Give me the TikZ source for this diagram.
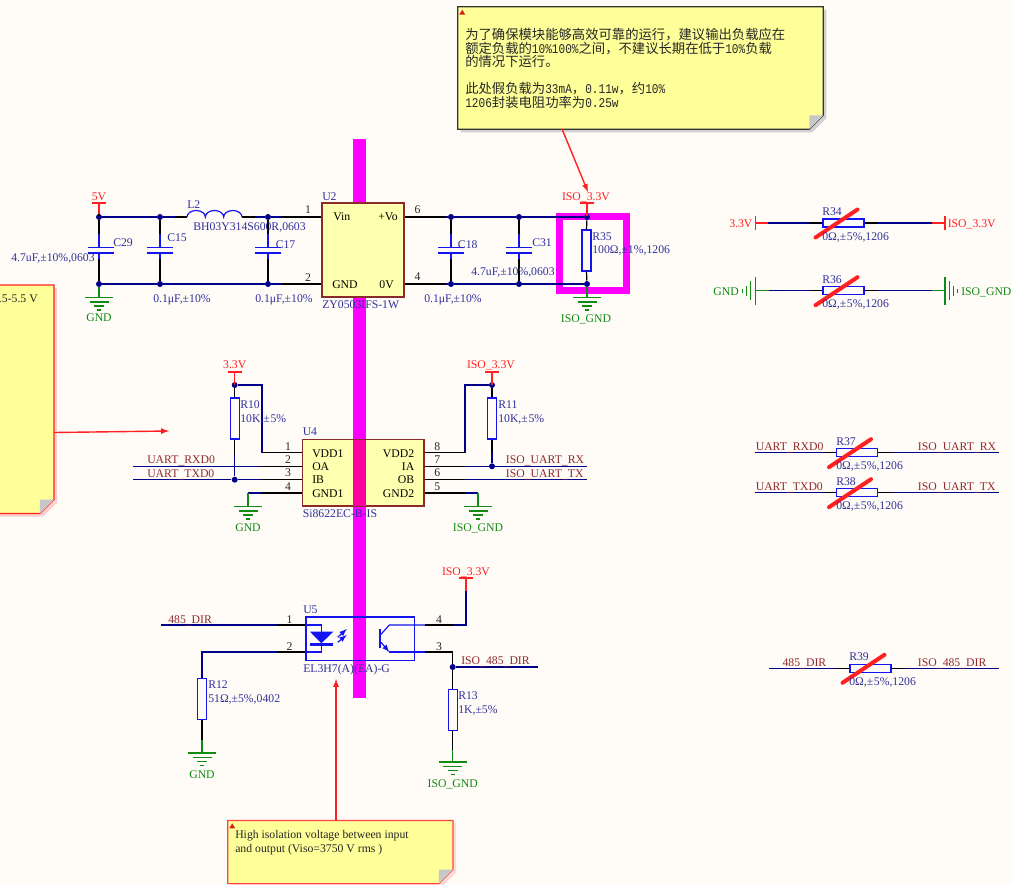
\documentclass[tikz,border=0pt]{standalone}
\usepackage{fontspec}
\setmainfont{Liberation Serif}
\newfontfamily\cjk{Noto Sans CJK SC}
\newfontfamily\halfw[FakeStretch=0.833]{Liberation Mono}
\newcommand{\hw}[1]{{\halfw\fontsize{10}{10}\selectfont #1}}
\newcommand{\lowbar}{\raisebox{-1.2pt}{\_}}
\usetikzlibrary{calc}
\definecolor{paper}{HTML}{FFFCF8}
\definecolor{notey}{HTML}{FFFF99}
\definecolor{chipy}{HTML}{FFFFB0}
\definecolor{chipb}{HTML}{8B2A2A}
\definecolor{navy}{HTML}{00008B}
\definecolor{labnavy}{HTML}{30309A}
\definecolor{partb}{HTML}{1414F0}
\definecolor{netred}{HTML}{8F2A2A}
\definecolor{pwr}{HTML}{FF2020}
\definecolor{earth}{HTML}{108A10}
\definecolor{barm}{HTML}{FF00FF}
\definecolor{barp}{HTML}{FF00A0}
\tikzset{
  wire/.style={navy,line width=1pt},
  pin/.style={black,line width=0.9pt},
  part/.style={partb,line width=0.9pt},
  dot/.style={circle,fill=navy,inner sep=0pt,minimum size=4.5pt},
  chip/.style={draw=chipb,fill=chipy,line width=0.9pt,inner sep=0pt},
  resv/.style={draw=partb,line width=0.9pt,inner sep=0pt,minimum width=6.75pt,minimum height=30.75pt},
  resh/.style={draw=partb,line width=0.9pt,inner sep=0pt,minimum width=30.75pt,minimum height=6pt},
  capv/.style={inner sep=0pt,minimum width=18.5pt,minimum height=3.75pt},
  lab/.style={inner sep=0pt,anchor=base west,font=\fontsize{8.8}{10}\selectfont},
  des/.style={lab,text=labnavy},
  net/.style={lab,text=netred},
  vcc/.style={lab,text=pwr},
  gndt/.style={lab,text=earth},
  pno/.style={lab,anchor=base,text=black!85},
  cross/.style={pwr,line width=3pt,line cap=round},
  notebox/.style={inner sep=0pt},
  notearrow/.style={-latex,pwr,line width=1.05pt},
  gnd/.pic={
    \coordinate (-top) at (0,0);
    \draw[earth,line width=0.9pt] (-14,0) -- (14,0) (-9.5,4.5) -- (9.5,4.5) (-5,8.5) -- (5,8.5) (-2,12.5) -- (2,12.5);
  },
  rail/.pic={
    \coordinate (-stem) at (0,13);
    \draw[pwr,line width=0.9pt] (-7,0) -- (7,0) (0,0) -- (0,13);
  },
}
\begin{document}
\begin{tikzpicture}[x=0.75pt,y=-0.75pt]
\useasboundingbox (0,0) rectangle (1012,884);
\fill[paper] (0,0) rectangle (1012,884);
% isolation bar and the marked resistor
\fill[barm] (353,139) rectangle (366,698);
\draw[barm,line width=5.25pt] (559.5,216.5) rectangle (626.5,290.5);

% notes
\node[notebox,minimum width=273.75pt,minimum height=91.5pt] (noteA) at (640.5,68) {};
\node[notebox,minimum width=47.8pt,minimum height=171pt] (noteB) at (21.85,399.3) {};
\node[notebox,minimum width=168.5pt,minimum height=47pt] (noteC) at (340.3,852) {};
\foreach \n/\e/\s in {noteA/black!80/black!18,noteB/pwr/pwr!22,noteC/pwr!85/pwr!18} {
  \fill[\s] ($(\n.north west)+(3,3)$) -- ($(\n.north east)+(3,3)$) -- ($(\n.south east)+(3,-11)$) -- ($(\n.south east)+(-11,3)$) -- ($(\n.south west)+(3,3)$) -- cycle;
  \filldraw[draw=\e,fill=notey,line width=0.9pt] (\n.north west) -- (\n.north east) -- ($(\n.south east)+(0,-14)$) -- ($(\n.south east)+(-14,0)$) -- (\n.south west) -- cycle;
  \fill[black!22] ($(\n.south east)+(0,-14)$) -- ($(\n.south east)+(-14,-14)$) -- ($(\n.south east)+(-14,0)$) -- cycle;
  \fill[pwr!85!black] ($(\n.north west)+(1.5,8)$) -- ($(\n.north west)+(7.5,8)$) -- ($(\n.north west)+(4.5,3)$) -- cycle;
}
\node[inner sep=0pt,anchor=north west,align=left,text=black!85,font=\cjk\fontsize{10}{10.2}\selectfont] (noteAtext) at (465,28) {为了确保模块能够高效可靠的运行，建议输出负载应在\\额定负载的\hw{10\%100\%}之间，不建议长期在低于\hw{10\%}负载\\的情况下运行。\\[10.2pt]此处假负载为\hw{33mA}，\hw{0.11w}，约\hw{10\%}\\\hw{1206}封装电阻功率为\hw{0.25w}};
\node[lab,anchor=base east,text=black!85] (noteBtext) at (38,302.7) {.5-5.5 V};
\node[lab,text=black!85] (noteCline) at (235,838.3) {High isolation voltage between input};
\node[lab,text=black!85] (noteCrms) at (235,852) {and output (Viso=3750 V rms )};
\coordinate (tipA) at (588,192);
\coordinate (tipB) at (169,431);
\coordinate (tipC) at (336,679);
\draw[notearrow] (562,129) -- (tipA);
\draw[notearrow] (noteB.east |- 0,432.5) -- (tipB);
\draw[notearrow] (tipC |- noteC.north) -- (tipC);

% power module
\node[chip,minimum width=61.5pt,minimum height=70.5pt] (U2) at (363,250) {};
\node[dot] (j5a) at (99,217) {};
\node[dot] (j5b) at (160,217) {};
\node[dot] (j5c) at (268,217) {};
\node[dot] (g5a) at (99,284) {};
\node[dot] (g5b) at (160,284) {};
\node[dot] (g5c) at (268,284) {};
\node[dot] (jIa) at (451,217) {};
\node[dot] (jIb) at (519,217) {};
\node[dot] (jIc) at (587,217) {};
\node[dot] (gIa) at (451,284) {};
\node[dot] (gIb) at (519,284) {};
\node[dot] (gIc) at (587,284) {};
\node[capv] (C29) at (101,250.2) {};
\node[capv] (C15) at (160,250.2) {};
\node[capv] (C17) at (268,250.2) {};
\node[capv] (C18) at (451,250.2) {};
\node[capv] (C31) at (519,250.2) {};
\node[resv] (R35) at (586.5,250.5) {};
\foreach \c/\a/\b in {C29/j5a/g5a,C15/j5b/g5b,C17/j5c/g5c,C18/jIa/gIa,C31/jIb/gIb} {
  \draw[pin] (\a) -- (\a |- \c.north);
  \draw[pin] (\b) -- (\b |- \c.south);
  \draw[part] (\a |- \c.north) -- ++(0,-13);
  \draw[part] (\b |- \c.south) -- ++(0,6);
  \draw[part,line width=1.2pt] (\c.north west) -- (\c.north east) (\c.south west) -- (\c.south east);
}
\coordinate (L2a) at (187,217);
\coordinate (L2b) at (242,217);
\draw[wire] (j5a) -- (j5b) -- (175,217);
\draw[pin] (175,217) -- (L2a);
\draw[part] (L2a) \foreach \k in {1,2,3} {arc[start angle=180,end angle=360,x radius=9.17,y radius=6.5]};
\draw[pin] (L2b) -- (255,217);
\draw[wire] (255,217) -- (j5c) -- (281,217);
\draw[pin] (281,217) -- (U2.west |- j5c);
\draw[wire] (g5a) -- (g5b) -- (g5c) -- (281,284);
\draw[pin] (281,284) -- (U2.west |- g5c);
\draw[pin] (U2.east |- jIa) -- (445,217);
\draw[wire] (445,217) -- (jIa) -- (jIb) -- (jIc);
\draw[pin] (U2.east |- gIa) -- (445,284);
\draw[wire] (445,284) -- (gIa) -- (gIb) -- (gIc);
\draw[pin] (jIc) -- (R35.north);
\draw[pin] (gIc) -- (R35.south);
\pic (p5) at (99,203) {rail};
\draw[pin] (p5-stem) -- (j5a);
\pic (pIA) at (587,203) {rail};
\pic (gA) at (99,297.5) {gnd};
\draw[earth,line width=0.9pt] (g5a) -- (gA-top);
\pic (gB) at (587,297.5) {gnd};
\draw[earth,line width=0.9pt] (gIc) -- (gB-top);
\node[vcc,anchor=base] (t5V) at (99,200) {5V};
\node[gndt,anchor=base] (tGA) at (99,321.7) {GND};
\node[des] (tC29) at (113,246) {C29};
\node[des] (vC29) at (11,261) {4.7uF,±10\%,0603};
\node[des] (tC15) at (167,241) {C15};
\node[des] (vC15) at (153,302) {0.1μF,±10\%};
\node[des] (tL2) at (187,208.3) {L2};
\node[des] (vL2) at (193,230) {BH03Y314S600R,0603};
\node[des] (tC17) at (275.5,248) {C17};
\node[des] (vC17) at (255,302) {0.1μF,±10\%};
\node[des] (tU2) at (322,200) {U2};
\node[des] (vU2) at (322,308) {ZY0503IFS-1W};
\node[pno] (n21) at (308,214) {1};
\node[pno] (n22) at (308,281) {2};
\node[pno] (n26) at (417.5,213.7) {6};
\node[pno] (n24) at (417.5,280.7) {4};
\node[lab] (sVin) at (333,220.7) {Vin};
\node[lab,anchor=base east] (sVo) at (398,220.7) {+Vo};
\node[lab] (sGND) at (332,288.3) {GND};
\node[lab,anchor=base east] (s0V) at (394,288.3) {0V};
\node[des] (tC18) at (457.7,248) {C18};
\node[des] (vC18) at (424,302) {0.1μF,±10\%};
\node[des] (tC31) at (532,246) {C31};
\node[des] (vC31) at (471,275) {4.7uF,±10\%,0603};
\node[des] (tR35) at (592,240) {R35};
\node[des] (vR35) at (592,253) {100Ω,±1\%,1206};
\node[vcc,anchor=base] (tIA) at (586,200) {ISO\_3.3V};
\node[gndt,anchor=base] (tGB) at (586,322) {ISO\_GND};

% uart isolator
\node[chip,minimum width=91.3pt,minimum height=50pt] (U4) at (363.2,472.7) {};
\fill[barp] (353,440) rectangle (366,505.5);
\node[dot] (jV) at (234.7,385) {};
\node[dot] (jW) at (492,385) {};
\node[dot] (jTX) at (234.7,479.7) {};
\node[dot] (jRX) at (492,466.3) {};
\node[resv] (R10) at (234.7,418.5) {};
\node[resv] (R11) at (492,418.5) {};
\coordinate (lRX) at (133,466.3);
\coordinate (lTX) at (133,479.7);
\coordinate (bA) at (262,452.7);
\coordinate (bB) at (262,466.3);
\coordinate (bC) at (262,479.7);
\coordinate (bD) at (262,493);
\coordinate (cA) at (465,452.7);
\coordinate (cB) at (465,466.3);
\coordinate (cC) at (465,479.7);
\coordinate (cD) at (465,493);
\coordinate (rRX) at (587,466.3);
\coordinate (rTX) at (587,479.7);
\pic (p33) at (234.7,372) {rail};
\pic (pIB) at (492,372) {rail};
\pic (gC) at (248,506.5) {gnd};
\pic (gD) at (478,506.5) {gnd};
\draw[pin] (p33-stem) -- (jV);
\draw[pin] (pIB-stem) -- (jW);
\draw[pin] (jV) -- (R10.north);
\draw[pin] (jW) -- (R11.north);
\draw[wire] (jV) -| (bA);
\draw[wire] (jW) -| (cA);
\draw[wire] (lRX) -- (bB);
\draw[wire] (lTX) -- (jTX) -- (bC);
\draw[wire] (cB) -- (jRX) -- (rRX);
\draw[wire] (cC) -- (rTX);
\draw[pin] (R10.south) -- (234.7,455);
\draw[wire] (234.7,455) -- (jTX);
\draw[pin] (R11.south) -- (492,452);
\draw[wire] (492,452) -- (jRX);
\foreach \a/\b in {bA/U4.west,bB/U4.west,bC/U4.west,bD/U4.west,cA/U4.east,cB/U4.east,cC/U4.east,cD/U4.east}
\draw[pin] (\a) -- (\b |- \a);
\draw[wire] (bD) -- (248,493);
\draw[earth,line width=0.9pt] (248,493) -- (gC-top);
\draw[wire] (cD) -- (478,493);
\draw[earth,line width=0.9pt] (478,493) -- (gD-top);
\node[vcc,anchor=base] (t33) at (234.7,368.7) {3.3V};
\node[vcc,anchor=base] (tIB) at (491,368.7) {ISO\_3.3V};
\node[des] (tR10) at (240,408.3) {R10};
\node[des] (vR10) at (240,422.3) {10K,±\kern0.5pt 5\%};
\node[des] (tR11) at (498,408.3) {R11};
\node[des] (vR11) at (498,422.3) {10K,±\kern0.5pt 5\%};
\node[des] (tU4) at (302.5,435.3) {U4};
\node[des] (vU4) at (302.5,517) {Si8622EC-B-IS};
\node[net] (tRXD) at (147,463.3) {UART\lowbar RXD0};
\node[net] (tTXD) at (147,477) {UART\lowbar TXD0};
\node[net] (tURX) at (505.7,463.3) {ISO\lowbar UART\lowbar RX};
\node[net] (tUTX) at (505.7,477) {ISO\lowbar UART\lowbar TX};
\node[gndt,anchor=base] (tGC) at (248,531) {GND};
\node[gndt,anchor=base] (tGD) at (478,531) {ISO\_GND};
\foreach \k/\y in {1/450,2/463.3,3/476.7,4/490}
\node[pno] (nL\k) at (288,\y) {\k};
\foreach \k/\y in {8/450,7/463.3,6/476.7,5/490}
\node[pno] (nR\k) at (437.3,\y) {\k};
\node[lab] (sVDDa) at (312,457.3) {VDD1};
\node[lab] (sOA) at (312,470.3) {OA};
\node[lab] (sIB) at (312,483.7) {IB};
\node[lab] (sGNDa) at (312,497) {GND1};
\node[lab,anchor=base east] (sVDDb) at (414.5,457.3) {VDD2};
\node[lab,anchor=base east] (sIA) at (414.5,470.3) {IA};
\node[lab,anchor=base east] (sOB) at (414.5,483.7) {OB};
\node[lab,anchor=base east] (sGNDb) at (414.5,497) {GND2};

% optocoupler
\node[draw=partb,line width=0.9pt,inner sep=0pt,minimum width=81.5pt,minimum height=32.5pt] (U5) at (360.3,638.7) {};
\coordinate (dA) at (321.3,625);
\coordinate (dB) at (321.3,652);
\coordinate (qA) at (389.3,625);
\coordinate (qB) at (389.3,652);
\coordinate (mA) at (277,625);
\coordinate (mB) at (277,652);
\coordinate (oA) at (425.3,625);
\coordinate (oB) at (425.3,652);
\coordinate (sA) at (452.7,625);
\coordinate (sB) at (452.7,652);
\coordinate (lDIR) at (161,625);
\coordinate (rDIR) at (538,667);
\node[dot] (jD) at (452.7,667) {};
\node[resv] (R12) at (202,699.3) {};
\node[resv] (R13) at (452.7,710.3) {};
\pic (gE) at (202,753) {gnd};
\pic (gF) at (452.7,762) {gnd};
\pic (pIC) at (466,578) {rail};
\draw[part] (U5.west |- dA) -- (dA) -- (dB) -- (U5.west |- dB);
\fill[partb] (310,631.7) -- (333.3,631.7) -- (321.3,643.3) -- cycle;
\draw[part,line width=1.8pt] (310,644.5) -- (333.3,644.5);
\draw[part,-latex] (337.7,637.3) -- (346.7,629);
\draw[part,-latex] (337.7,642.3) -- (346.7,635);
\draw[part,line width=1.8pt] (380,629) -- (380,648.3);
\draw[part] (381,634.3) -- (qA) -- (oA);
\draw[part,-latex] (381,642.3) -- (qB);
\draw[part] (qB) -- (oB);
\draw[wire] (lDIR) -- (mA);
\draw[pin] (mA) -- (U5.west |- mA);
\draw[pin] (U5.west |- mB) -- (mB);
\draw[wire] (mB) -| (R12.north);
\draw[pin] (R12.south) -- (202,740);
\draw[earth,line width=0.9pt] (202,740) -- (gE-top);
\draw[pin] (oA) -- (sA);
\draw[wire] (sA) -| (pIC-stem);
\draw[pin] (oB) -- (sB) -- (jD);
\draw[wire] (jD) -- (rDIR);
\draw[pin] (jD) -- (R13.north);
\draw[pin] (R13.south) -- (452.7,750);
\draw[earth,line width=0.9pt] (452.7,750) -- (gF-top);
\node[des] (tU5) at (303,613) {U5};
\node[des] (vU5) at (303,672.3) {EL3H7(A)(EA)-G};
\node[net] (tDIR) at (168,623) {485\lowbar DIR};
\node[net] (tIDIR) at (461,664) {ISO\lowbar 485\lowbar DIR};
\node[vcc,anchor=base] (tIC) at (466,575) {ISO\_3.3V};
\node[pno] (nU1) at (289.5,623) {1};
\node[pno] (nU2) at (289.5,650) {2};
\node[pno] (nU4) at (439,623) {4};
\node[pno] (nU3) at (439,650) {3};
\node[des] (tR12) at (208,688.7) {R12};
\node[des] (vR12) at (208,702) {51Ω,±5\%,0402};
\node[des] (tR13) at (458,699.3) {R13};
\node[des] (vR13) at (458,713.3) {1K,±5\%};
\node[gndt,anchor=base] (tGE) at (202,778) {GND};
\node[gndt,anchor=base] (tGF) at (452.7,787) {ISO\_GND};

% zero ohm links
\node[resh] (R34) at (843.5,223) {};
\node[resh] (R36) at (843.5,290.7) {};
\node[resh] (R37) at (857,452.7) {};
\node[resh] (R38) at (857,492.7) {};
\node[resh] (R39) at (870.5,668.3) {};
\pic[rotate=90] (pL) at (755.3,223) {rail};
\pic[rotate=-90] (pR) at (945,223) {rail};
\pic[rotate=-90] (gL) at (755.3,290.7) {gnd};
\pic[rotate=90] (gR) at (945,290.7) {gnd};
\draw[wire] (pL-stem) -- (810,223);
\draw[pin] (810,223) -- (R34.west);
\draw[pin] (R34.east) -- (877,223);
\draw[wire] (877,223) -- (pR-stem);
\draw[earth,line width=0.9pt] (gL-top) -- (769,290.7);
\draw[wire] (769,290.7) -- (810,290.7);
\draw[pin] (810,290.7) -- (R36.west);
\draw[pin] (R36.east) -- (877,290.7);
\draw[wire] (877,290.7) -- (931.7,290.7);
\draw[earth,line width=0.9pt] (931.7,290.7) -- (gR-top);
\foreach \r/\a/\b in {R37/755.3/823.3,R38/755.3/823.3,R39/769/836.7} {
  \draw[wire] (\a,0 |- \r.west) -- (\b,0 |- \r.west);
  \draw[pin] (\b,0 |- \r.west) -- (\r.west);
  \draw[pin] (\r.east) -- ++(13,0);
  \draw[wire] ($(\r.east)+(13,0)$) -- (999.3,0 |- \r.east);
}
\node[vcc,anchor=base east] (t33L) at (752.7,227.3) {3.3V};
\node[vcc] (t33R) at (947.5,227.3) {ISO\_3.3V};
\node[gndt,anchor=base east] (tGL) at (739,295) {GND};
\node[gndt] (tGR) at (961,295) {ISO\_GND};
\node[net] (tRXDb) at (755.5,450.3) {UART\lowbar RXD0};
\node[net] (tTXDb) at (755.5,490.3) {UART\lowbar TXD0};
\node[net] (tURXb) at (917.7,450.3) {ISO\lowbar UART\lowbar RX};
\node[net] (tUTXb) at (917.7,490.3) {ISO\lowbar UART\lowbar TX};
\node[net] (tDIRb) at (782.3,666) {485\lowbar DIR};
\node[net] (tIDIRb) at (917.7,666) {ISO\lowbar 485\lowbar DIR};
\foreach \r/\x/\y/\v in {R34/822/215/240.3,R36/822/283/307,R37/836/445/469.3,R38/836/485/509.3,R39/849/660/685} {
  \node[des] (t\r) at (\x,\y) {\r};
  \draw[cross] ($(\r.center)+(-28,14.5)$) -- ($(\r.center)+(14,-13.5)$);
  \node[des] (v\r) at (\x,\v) {0Ω,±\kern0.5pt 5\%,1206};
}
\end{tikzpicture}
\end{document}
